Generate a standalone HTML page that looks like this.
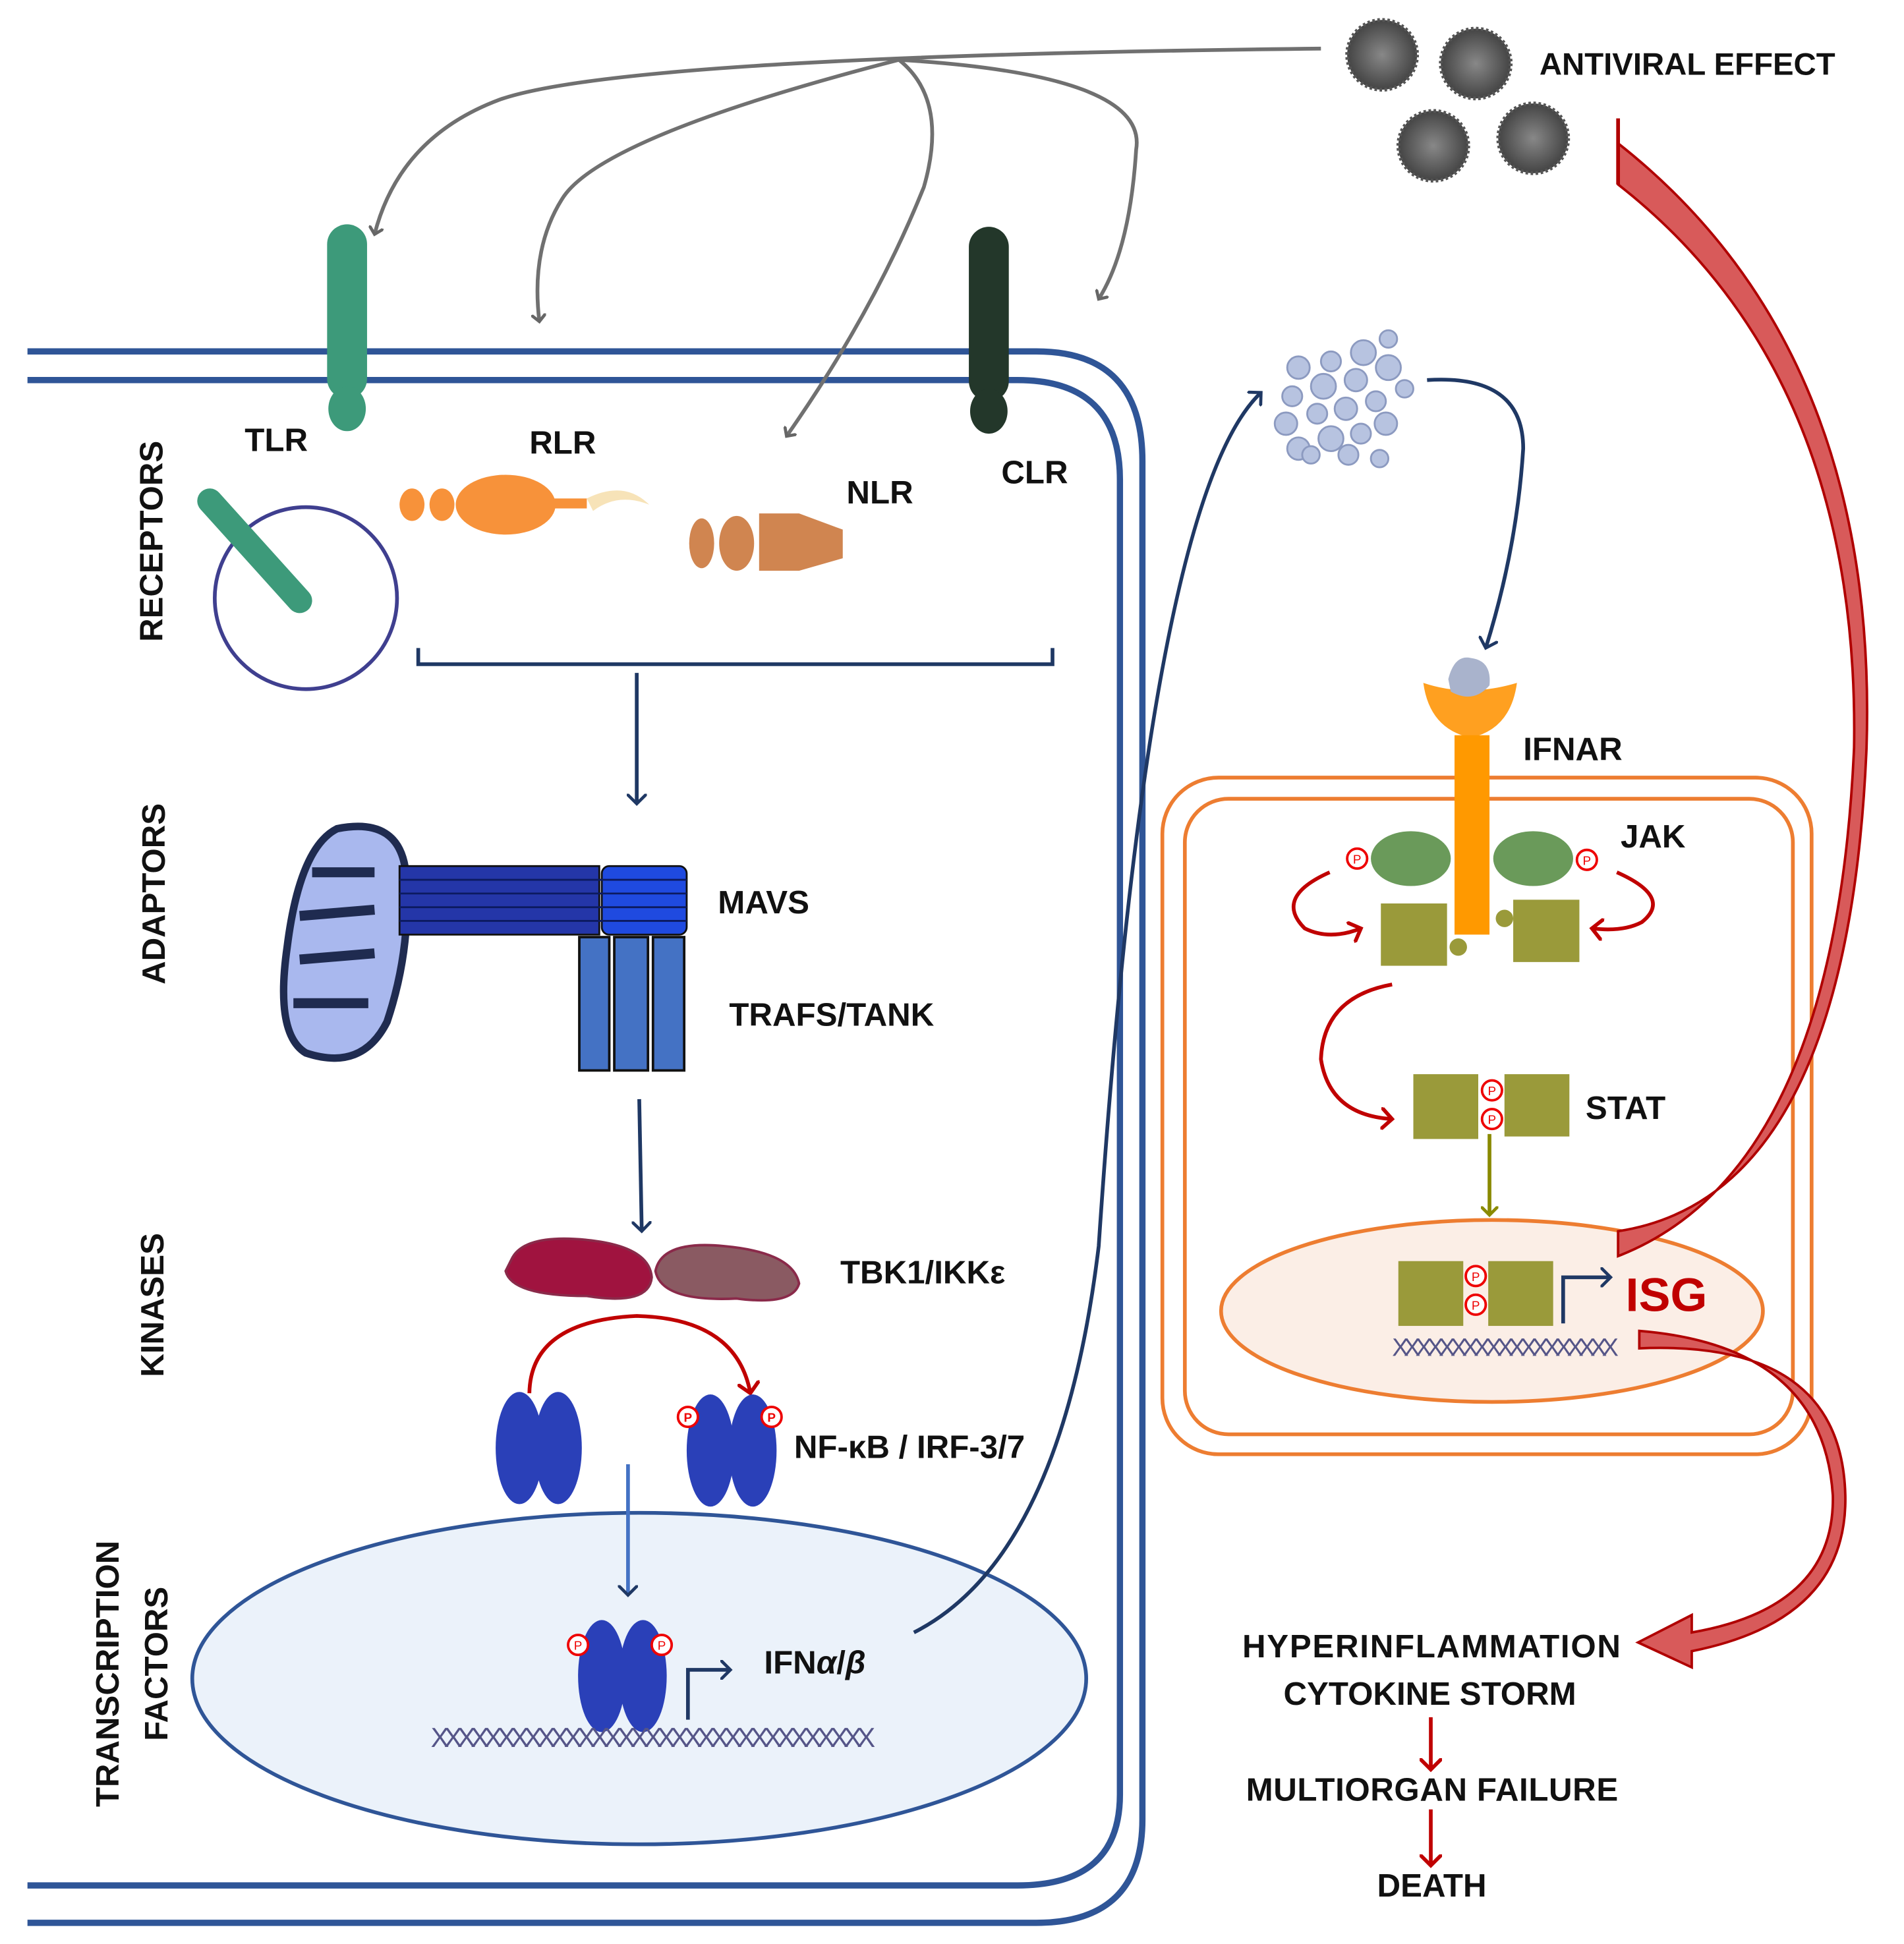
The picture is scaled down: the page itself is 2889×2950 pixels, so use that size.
<!DOCTYPE html>
<html><head><meta charset="utf-8"><style>
html,body{margin:0;padding:0;background:#fff}
svg{display:block}
text{font-family:"Liberation Sans",sans-serif;font-weight:bold;fill:#111}
</style></head><body>
<svg width="2889" height="2950" viewBox="0 0 1525 1560" preserveAspectRatio="none" xmlns="http://www.w3.org/2000/svg">
<defs>
<marker id="ag" markerWidth="12" markerHeight="12" refX="6" refY="6" orient="auto" markerUnits="userSpaceOnUse"><path d="M0,0 L6,6 L0,12" fill="none" stroke="#666" stroke-width="2.5"/></marker>
<marker id="ab" markerWidth="16" markerHeight="16" refX="8" refY="8" orient="auto" markerUnits="userSpaceOnUse"><path d="M0,0 L8,8 L0,16" fill="none" stroke="#1f3864" stroke-width="2.5"/></marker>
<marker id="ar" markerWidth="18" markerHeight="18" refX="9" refY="9" orient="auto" markerUnits="userSpaceOnUse"><path d="M0,0 L9,9 L0,18" fill="none" stroke="#c00000" stroke-width="3"/></marker>
<marker id="ao" markerWidth="14" markerHeight="14" refX="7" refY="7" orient="auto" markerUnits="userSpaceOnUse"><path d="M0,0 L7,7 L0,14" fill="none" stroke="#8a8a00" stroke-width="2.5"/></marker>
<radialGradient id="vir"><stop offset="0" stop-color="#888"/><stop offset="1" stop-color="#444"/></radialGradient>
</defs>
<path d="M22,282 H830 Q915,282 915,370 V1460 Q915,1543 830,1543 H22" fill="none" stroke="#2f5597" stroke-width="5"/>
<path d="M22,305 H815 Q897,305 897,385 V1440 Q897,1513 815,1513 H22" fill="none" stroke="#2f5597" stroke-width="5"/>
<g fill="none" stroke="#707070" stroke-width="3">
<path d="M1058,39 Q500,45 400,80 Q320,110 300,188" marker-end="url(#ag)"/>
<path d="M720,48 Q480,110 450,160 Q425,200 432,258" marker-end="url(#ag)"/>
<path d="M720,48 Q760,80 740,150 Q700,250 630,350" marker-end="url(#ag)"/>
<path d="M720,48 Q920,60 910,120 Q905,200 880,240" marker-end="url(#ag)"/>
</g>
<g fill="url(#vir)" stroke="#555" stroke-width="3" stroke-dasharray="2 2">
<circle cx="1107" cy="44" r="28"/><circle cx="1182" cy="51" r="28"/><circle cx="1148" cy="117" r="28"/><circle cx="1228" cy="111" r="28"/>
</g>
<text x="1233" y="60" font-size="25">ANTIVIRAL EFFECT</text>
<rect x="262" y="180" width="32" height="140" rx="16" fill="#3d9a7a"/>
<ellipse cx="278" cy="328" rx="15" ry="18" fill="#3d9a7a"/>
<rect x="776" y="182" width="32" height="140" rx="16" fill="#23372a"/>
<ellipse cx="792" cy="330" rx="15" ry="18" fill="#23372a"/>
<text x="196" y="362" font-size="26">TLR</text>
<text x="424" y="364" font-size="26">RLR</text>
<text x="678" y="404" font-size="26">NLR</text>
<text x="802" y="388" font-size="26">CLR</text>
<text transform="translate(130,515) rotate(-90)" font-size="26">RECEPTORS</text>
<circle cx="245" cy="480" r="73" fill="none" stroke="#3f3f8f" stroke-width="3"/>
<line x1="168" y1="402" x2="240" y2="482" stroke="#3d9a7a" stroke-width="20" stroke-linecap="round"/>
<g fill="#f7923a"><ellipse cx="330" cy="405" rx="10" ry="13"/><ellipse cx="354" cy="405" rx="10" ry="13"/><ellipse cx="405" cy="405" rx="40" ry="24"/><rect x="440" y="400" width="30" height="8"/></g>
<path d="M470,400 Q500,385 520,405 Q495,395 475,410 Z" fill="#f7e3b8"/>
<g fill="#d08550"><ellipse cx="562" cy="436" rx="10" ry="20"/><ellipse cx="590" cy="436" rx="14" ry="22"/><path d="M608,412 H640 L675,425 V448 L640,458 H608 Z"/></g>
<path d="M335,520 V533 H843 V520" fill="none" stroke="#1f3864" stroke-width="3"/>
<line x1="510" y1="540" x2="510" y2="645" stroke="#1f3864" stroke-width="3" marker-end="url(#ab)"/>
<text transform="translate(132,790) rotate(-90)" font-size="26">ADAPTORS</text>
<path d="M270,665 Q320,655 325,700 Q330,760 310,820 Q290,860 245,845 Q220,830 230,760 Q240,680 270,665 Z" fill="#a9b8ee" stroke="#1f2b50" stroke-width="6"/>
<path d="M250,700 L300,700 M240,735 L300,730 M240,770 L300,765 M235,805 L295,805" stroke="#1f2b50" stroke-width="8" fill="none"/>
<rect x="320" y="695" width="160" height="55" fill="#2436a8" stroke="#111" stroke-width="1.5"/>
<rect x="482" y="695" width="68" height="55" rx="6" fill="#1f4ae0" stroke="#111" stroke-width="1.5"/>
<g stroke="#0c1a60" stroke-width="1.5"><line x1="320" y1="706" x2="550" y2="706"/><line x1="320" y1="717" x2="550" y2="717"/><line x1="320" y1="728" x2="550" y2="728"/><line x1="320" y1="739" x2="550" y2="739"/></g>
<g fill="#4472c4" stroke="#111" stroke-width="2"><rect x="464" y="752" width="24" height="107"/><rect x="492" y="752" width="27" height="107"/><rect x="523" y="752" width="25" height="107"/></g>
<text x="575" y="733" font-size="26">MAVS</text>
<text x="584" y="823" font-size="26">TRAFS/TANK</text>
<line x1="512" y1="882" x2="514" y2="988" stroke="#1f3864" stroke-width="3" marker-end="url(#ab)"/>
<text transform="translate(131,1105) rotate(-90)" font-size="26">KINASES</text>
<path d="M410,1010 Q420,990 470,995 Q520,1000 522,1025 Q520,1048 470,1040 Q410,1040 405,1020 Z" fill="#a0133f" stroke="#8a2a4a" stroke-width="2"/>
<path d="M525,1020 Q530,995 580,1000 Q635,1005 640,1030 Q635,1048 590,1042 Q530,1045 525,1020 Z" fill="#8a5a62" stroke="#8a2a4a" stroke-width="2"/>
<text x="673" y="1030" font-size="26">TBK1/IKKε</text>
<path d="M424,1118 Q425,1060 510,1056 Q590,1058 601,1118" fill="none" stroke="#c00000" stroke-width="3" marker-end="url(#ar)"/>
<g fill="#2a40b8"><ellipse cx="416" cy="1162" rx="19" ry="45"/><ellipse cx="447" cy="1162" rx="19" ry="45"/><ellipse cx="569" cy="1164" rx="19" ry="45"/><ellipse cx="603" cy="1164" rx="19" ry="45"/></g>
<g fill="#fff" stroke="#e00" stroke-width="2"><circle cx="551" cy="1137" r="8"/><circle cx="618" cy="1137" r="8"/></g>
<g font-size="10" text-anchor="middle" style="fill:#e00;font-weight:normal"><text x="551" y="1141" style="fill:#e00">P</text><text x="618" y="1141" style="fill:#e00">P</text></g>
<text x="636" y="1170" font-size="26">NF-κB / IRF-3/7</text>
<ellipse cx="512" cy="1347" rx="358" ry="133" fill="#ebf2fa" stroke="#2f5597" stroke-width="3"/>
<line x1="503" y1="1175" x2="503" y2="1280" stroke="#4472c4" stroke-width="3" marker-end="url(#ab)"/>
<text transform="translate(95,1450) rotate(-90)" font-size="26">TRANSCRIPTION</text>
<text transform="translate(134,1397) rotate(-90)" font-size="26">FACTORS</text>
<g fill="#2a40b8"><ellipse cx="482" cy="1345" rx="19" ry="45"/><ellipse cx="515" cy="1345" rx="19" ry="45"/></g>
<g fill="#fff" stroke="#e00" stroke-width="2"><circle cx="463" cy="1320" r="8"/><circle cx="530" cy="1320" r="8"/></g>
<g font-size="10" text-anchor="middle"><text x="463" y="1324" style="fill:#e00;font-weight:normal">P</text><text x="530" y="1324" style="fill:#e00;font-weight:normal">P</text></g>
<text x="345" y="1402" font-size="22" fill="#555588" style="fill:#555588;font-weight:normal;letter-spacing:-4px">XXXXXXXXXXXXXXXXXXXXXXXXXXXXXXXXX</text>
<path d="M551,1380 V1340 H585" fill="none" stroke="#1f3864" stroke-width="3" marker-end="url(#ab)"/>
<text x="612" y="1343" font-size="26">IFN<tspan font-style="italic">α</tspan>/<tspan font-style="italic">β</tspan></text>
<path d="M732,1310 Q850,1250 880,1000 Q920,400 1010,315" fill="none" stroke="#1f3864" stroke-width="3" marker-end="url(#ab)"/>
<g fill="#b7c3e0" stroke="#8c9ac0" stroke-width="1.5">
<circle cx="1040" cy="295" r="9"/><circle cx="1066" cy="290" r="8"/><circle cx="1092" cy="283" r="10"/><circle cx="1112" cy="272" r="7"/><circle cx="1035" cy="318" r="8"/><circle cx="1060" cy="310" r="10"/><circle cx="1086" cy="305" r="9"/><circle cx="1112" cy="295" r="10"/><circle cx="1030" cy="340" r="9"/><circle cx="1055" cy="332" r="8"/><circle cx="1078" cy="328" r="9"/><circle cx="1102" cy="322" r="8"/><circle cx="1125" cy="312" r="7"/><circle cx="1040" cy="360" r="9"/><circle cx="1066" cy="352" r="10"/><circle cx="1090" cy="348" r="8"/><circle cx="1110" cy="340" r="9"/><circle cx="1050" cy="365" r="7"/><circle cx="1080" cy="365" r="8"/><circle cx="1105" cy="368" r="7"/>
</g>
<path d="M1143,305 Q1220,300 1220,360 Q1215,440 1190,520" fill="none" stroke="#1f3864" stroke-width="3" marker-end="url(#ab)"/>
<rect x="931" y="624" width="520" height="543" rx="45" fill="none" stroke="#ed7d31" stroke-width="3"/>
<rect x="949" y="641" width="487" height="510" rx="35" fill="none" stroke="#ed7d31" stroke-width="3"/>
<path d="M1140,548 Q1175,560 1215,548 Q1210,585 1178,592 Q1145,585 1140,548 Z" fill="#ffa020"/>
<path d="M1160,545 Q1165,525 1178,528 Q1195,530 1193,550 Q1180,565 1162,555 Z" fill="#a9b3cc"/>
<rect x="1165" y="590" width="28" height="160" fill="#ff9900"/>
<text x="1220" y="610" font-size="26">IFNAR</text>
<g fill="#6a9a5a"><ellipse cx="1130" cy="689" rx="32" ry="22"/><ellipse cx="1228" cy="689" rx="32" ry="22"/></g>
<g fill="#fff" stroke="#e00" stroke-width="2"><circle cx="1087" cy="689" r="8"/><circle cx="1271" cy="690" r="8"/></g>
<g font-size="10" text-anchor="middle"><text x="1087" y="693" style="fill:#e00;font-weight:normal">P</text><text x="1271" y="694" style="fill:#e00;font-weight:normal">P</text></g>
<text x="1298" y="680" font-size="26">JAK</text>
<g fill="#9a9a3a"><rect x="1106" y="725" width="53" height="50"/><rect x="1212" y="722" width="53" height="50"/><circle cx="1168" cy="760" r="7"/><circle cx="1205" cy="737" r="7"/></g>
<path d="M1065,700 Q1020,720 1045,745 Q1065,755 1090,745" fill="none" stroke="#c00000" stroke-width="3" marker-end="url(#ar)"/>
<path d="M1295,700 Q1340,720 1315,740 Q1300,748 1275,745" fill="none" stroke="#c00000" stroke-width="3" marker-end="url(#ar)"/>
<path d="M1115,790 Q1060,800 1058,850 Q1065,895 1115,898" fill="none" stroke="#c00000" stroke-width="3" marker-end="url(#ar)"/>
<g fill="#9a9a3a"><rect x="1132" y="862" width="52" height="52"/><rect x="1205" y="862" width="52" height="50"/></g>
<g fill="#fff" stroke="#e00" stroke-width="2"><circle cx="1195" cy="875" r="8"/><circle cx="1195" cy="898" r="8"/></g>
<g font-size="10" text-anchor="middle"><text x="1195" y="879" style="fill:#e00;font-weight:normal">P</text><text x="1195" y="902" style="fill:#e00;font-weight:normal">P</text></g>
<text x="1270" y="898" font-size="26">STAT</text>
<line x1="1193" y1="910" x2="1193" y2="975" stroke="#8a8a00" stroke-width="3" marker-end="url(#ao)"/>
<ellipse cx="1195" cy="1052" rx="217" ry="73" fill="#fbeee6" stroke="#ed7d31" stroke-width="3"/>
<g fill="#9a9a3a"><rect x="1120" y="1012" width="52" height="52"/><rect x="1192" y="1012" width="52" height="52"/></g>
<g fill="#fff" stroke="#e00" stroke-width="2"><circle cx="1182" cy="1024" r="8"/><circle cx="1182" cy="1047" r="8"/></g>
<g font-size="10" text-anchor="middle"><text x="1182" y="1028" style="fill:#e00;font-weight:normal">P</text><text x="1182" y="1051" style="fill:#e00;font-weight:normal">P</text></g>
<text x="1115" y="1088" font-size="20" style="fill:#555588;font-weight:normal;letter-spacing:-4px">XXXXXXXXXXXXXXXXXXX</text>
<path d="M1252,1062 V1025 H1290" fill="none" stroke="#1f3864" stroke-width="3" marker-end="url(#ab)"/>
<text x="1302" y="1052" font-size="38" style="fill:#c00000">ISG</text>
<path d="M1296,988 Q1480,960 1495,600 Q1505,280 1296,115 L1296,148 Q1490,300 1485,600 Q1470,940 1296,1008 Z" fill="#d85a5a" stroke="#b00000" stroke-width="2"/>
<line x1="1296" y1="95" x2="1296" y2="148" stroke="#b00000" stroke-width="3"/>
<path d="M1313,1068 Q1460,1080 1468,1200 Q1470,1290 1355,1310 L1355,1296 L1312,1318 L1355,1338 L1355,1325 Q1480,1300 1478,1200 Q1475,1075 1313,1082 Z" fill="#d85a5a" stroke="#b00000" stroke-width="2"/>
<text x="995" y="1330" font-size="26" textLength="303">HYPERINFLAMMATION</text>
<text x="1028" y="1368" font-size="26">CYTOKINE STORM</text>
<line x1="1146" y1="1378" x2="1146" y2="1420" stroke="#c00000" stroke-width="3" marker-end="url(#ar)"/>
<text x="998" y="1445" font-size="26" textLength="298">MULTIORGAN FAILURE</text>
<line x1="1146" y1="1452" x2="1146" y2="1497" stroke="#c00000" stroke-width="3" marker-end="url(#ar)"/>
<text x="1103" y="1522" font-size="26">DEATH</text>
</svg>
</body></html>
